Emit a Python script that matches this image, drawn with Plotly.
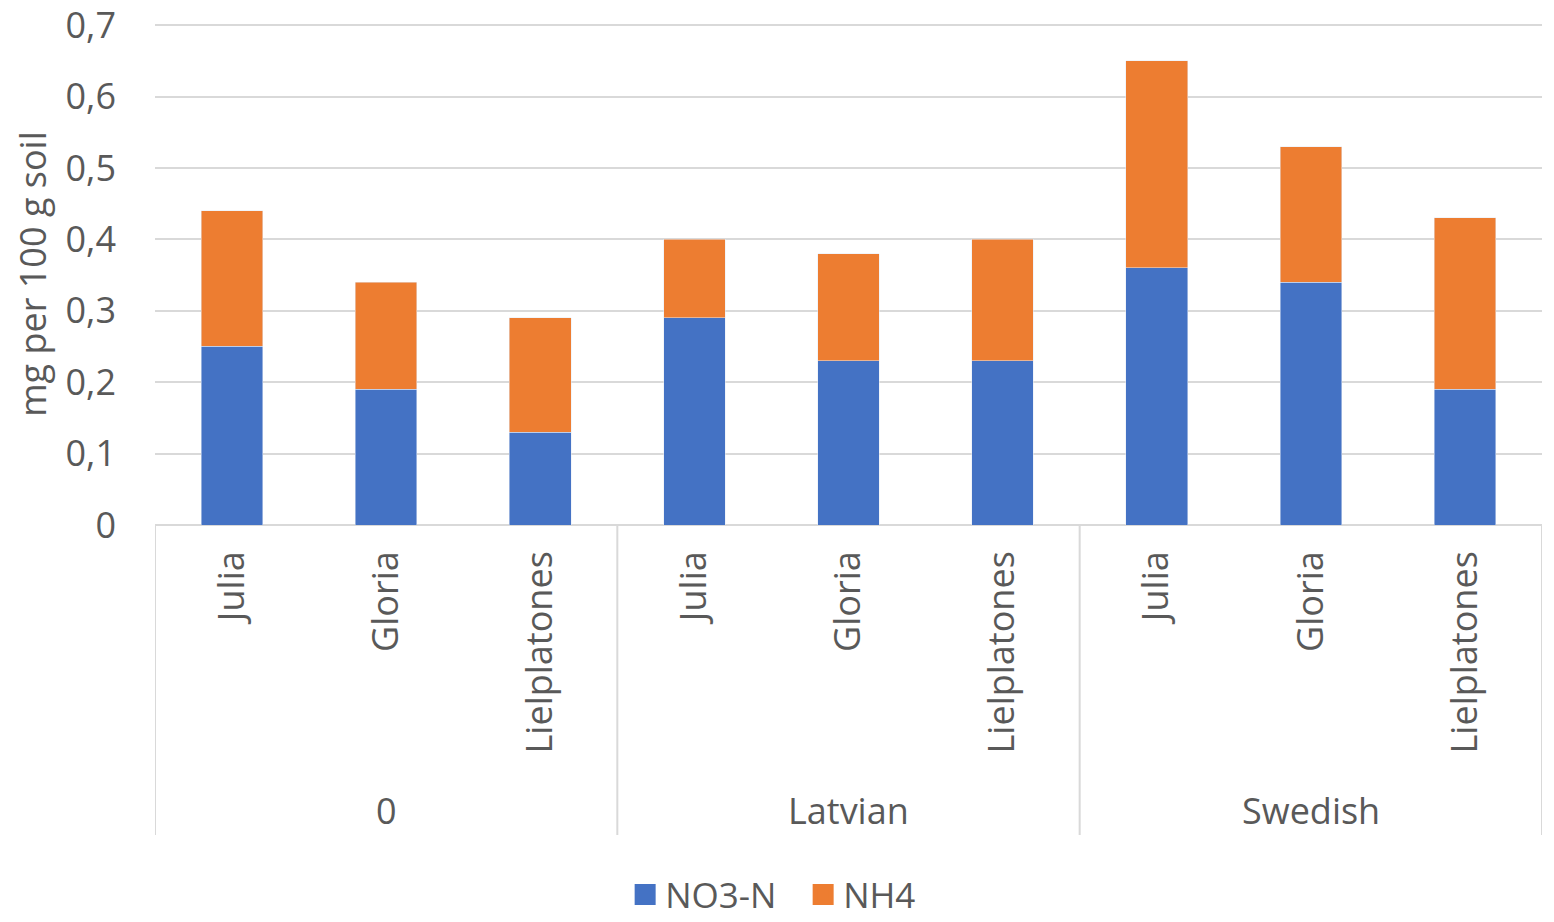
import plotly.graph_objects as go

groups = ["0", "Latvian", "Swedish"]
varieties = ["Julia", "Gloria", "Lielplatones"]
no3_n = [0.25, 0.19, 0.13, 0.29, 0.23, 0.23, 0.36, 0.34, 0.19]
nh4 = [0.19, 0.15, 0.16, 0.11, 0.15, 0.17, 0.29, 0.19, 0.24]

labels = [v for g in groups for v in varieties]
xpos = list(range(len(labels)))

txt = "#595959"
grid = "#D9D9D9"
blue = "#4472C4"
orange = "#ED7D31"

fig = go.Figure()
fig.add_trace(go.Bar(x=xpos, y=no3_n, name="NO3-N", marker_color=blue, width=0.4, showlegend=False))
fig.add_trace(go.Bar(x=xpos, y=nh4, name="NH4", marker_color=orange, width=0.4, showlegend=False))
# legend-only entries so the swatches are bigger squares like Excel
for name, col in [("NO3-N", blue), ("NH4", orange)]:
    fig.add_trace(go.Scatter(x=[None], y=[None], mode="markers", name=name,
                             marker=dict(symbol="square", size=16, color=col,
                                         line=dict(color=col, width=6))))

# group separators and group labels under the category labels
n = len(varieties)
for i in range(len(groups) + 1):
    fig.add_shape(type="line", xref="x", yref="paper",
                  x0=i * n - 0.5, x1=i * n - 0.5, y0=0, y1=-0.6175,
                  line=dict(color=grid, width=2))
for i, g in enumerate(groups):
    fig.add_annotation(x=i * n + (n - 1) / 2, y=-0.568, xref="x", yref="paper",
                       text=g, showarrow=False, font=dict(size=36, color=txt),
                       yanchor="middle")

# page body has an 8px margin, so the figure is 16px smaller than the window
# y range a bit above 0.7 so the top gridline is still drawn
fig.update_layout(
    barmode="stack",
    width=1538, height=906,
    margin=dict(l=147, r=4, t=15, b=389, autoexpand=False),
    paper_bgcolor="white", plot_bgcolor="white",
    separators=", ",
    font=dict(family="Open Sans", color=txt),
    legend=dict(orientation="h", xref="container", x=0.517, xanchor="center",
                y=-0.678, yanchor="top", font=dict(size=35, color=txt),
                traceorder="normal", itemwidth=30, entrywidth=133,
                entrywidthmode="pixels"),
    xaxis=dict(tickvals=xpos, ticktext=labels, tickangle=-90,
               range=[-0.5, len(labels) - 0.5], automargin=False,
               tickfont=dict(size=36, color=txt), ticklabelstandoff=18,
               showgrid=False, showline=False, zeroline=False, ticks=""),
    yaxis=dict(range=[0, 0.703], dtick=0.1, tickformat=".1~f", automargin=False,
               tickfont=dict(size=36, color=txt), ticklabelstandoff=38,
               ticklabeloverflow="allow",
               showgrid=True, gridcolor=grid, gridwidth=2,
               zeroline=True, zerolinecolor=grid, zerolinewidth=2,
               title=dict(text="mg per 100 g soil", font=dict(size=36, color=txt), standoff=20)),
)

fig.write_html("out.html")
